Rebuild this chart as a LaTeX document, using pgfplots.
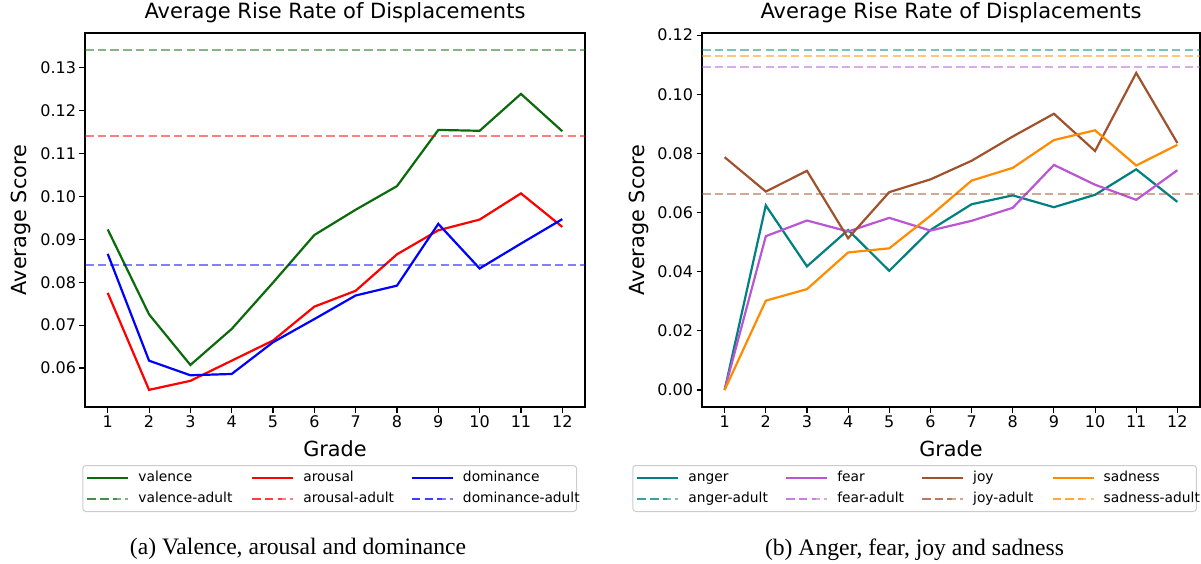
\documentclass[border=0pt]{standalone}
\usepackage{fontspec}
\setmainfont{DejaVu Sans}
\newfontfamily\capfont{Liberation Serif}
\usepackage{pgfplots}
\pgfplotsset{compat=1.18}

\definecolor{cval}{HTML}{0B6B0B}
\definecolor{caro}{HTML}{FF0000}
\definecolor{cdom}{HTML}{0000FF}
\definecolor{cang}{HTML}{008080}
\definecolor{cfea}{HTML}{BA55D3}
\definecolor{cjoy}{HTML}{A0522D}
\definecolor{csad}{HTML}{FF8C00}

\newcommand{\lgd}[2]{\makebox[#1][l]{\hspace*{9pt}#2}}

\pgfplotstableread{
grade valence arousal dominance
1  0.0923 0.0775 0.0866
2  0.0725 0.0549 0.0617
3  0.0607 0.0570 0.0583
4  0.0691 0.0617 0.0586
5  0.0799 0.0664 0.0660
6  0.0910 0.0743 0.0714
7  0.0969 0.0780 0.0769
8  0.1024 0.0865 0.0792
9  0.1155 0.0921 0.0936
10 0.1153 0.0946 0.0832
11 0.1239 0.1007 0.0890
12 0.1152 0.0929 0.0947
}\vadtable

\pgfplotstableread{
grade anger fear joy sadness
1  0.0000 0.0000 0.0787 0.0000
2  0.0624 0.0520 0.0671 0.0302
3  0.0418 0.0573 0.0741 0.0341
4  0.0541 0.0536 0.0513 0.0465
5  0.0403 0.0582 0.0669 0.0479
6  0.0541 0.0539 0.0712 0.0589
7  0.0628 0.0572 0.0775 0.0708
8  0.0658 0.0616 0.0857 0.0751
9  0.0618 0.0761 0.0934 0.0845
10 0.0660 0.0694 0.0808 0.0878
11 0.0746 0.0643 0.1072 0.0759
12 0.0636 0.0743 0.0835 0.0829
}\emotable

\pgfplotsset{
  legend image code/.code={\draw[#1] (0pt,0pt) -- (30pt,0pt); \path (0pt,0pt) -- (41pt,0pt);},
  adult/.style={dash pattern=on 8.5pt off 4.2pt, draw opacity=0.5},
  mystyle/.style={
    scale only axis, height=374pt,
    xmin=0.45, xmax=12.55, xtick={1,...,12},
    tick pos=left, tick align=outside, major tick length=5.5pt,
    tick style={black, line width=1.1pt},
    axis line style={line width=1.1pt, black},
    tick label style={font=\fontsize{16}{19}\selectfont},
    /pgf/number format/assume math mode=true,
    yticklabel style={/pgf/number format/fixed, /pgf/number format/fixed zerofill, /pgf/number format/precision=2},
    title style={at={(axis description cs:0.5,1)}, anchor=base, yshift=8.5pt, font=\fontsize{21}{25}\selectfont},
    title={Average Rise Rate of Displacements},
    xlabel={Grade}, ylabel={Average Score},
    label style={font=\fontsize{20.8}{25}\selectfont},
    xlabel style={at={(axis description cs:0.5,-0.1329)}, anchor=base},
    legend cell align=left,
    legend style={anchor=north west, draw=black!20, line width=1pt, rounded corners=3pt, fill=white,
      inner xsep=3.5pt, inner ysep=6pt, row sep=8pt, column sep=0pt,
      nodes={inner xsep=0pt, inner ysep=0pt, text height=10pt, text depth=3pt, font=\fontsize{13.8}{16}\selectfont}},
    every axis plot/.append style={line width=2.2pt, no markers},
  }
}

\begin{document}
\begin{tikzpicture}
\useasboundingbox (0pt,0pt) rectangle (1201pt,563pt);

\begin{axis}[mystyle, at={(85pt,156pt)}, anchor=south west, width=500pt,
  ymin=0.0509, ymax=0.1381, ytick={0.06,0.07,0.08,0.09,0.10,0.11,0.12,0.13},
  ylabel style={at={(axis description cs:-0.1166,0.5)}, anchor=base},
  legend columns=3,
  legend style={at={(axis description cs:-0.0054,-0.1551)}}]
\addplot[cval] table[x=grade, y=valence] {\vadtable};
\addlegendentry{\lgd{121.6pt}{valence}}
\addplot[caro] table[x=grade, y=arousal] {\vadtable};
\addlegendentry{\lgd{116.5pt}{arousal}}
\addplot[cdom] table[x=grade, y=dominance] {\vadtable};
\addlegendentry{\lgd{119pt}{dominance}}
\addplot[cval, adult] coordinates {(0.45,0.1341) (12.55,0.1341)};
\addlegendentry{\lgd{121.6pt}{valence-adult}}
\addplot[caro, adult] coordinates {(0.45,0.1140) (12.55,0.1140)};
\addlegendentry{\lgd{116.5pt}{arousal-adult}}
\addplot[cdom, adult] coordinates {(0.45,0.0841) (12.55,0.0841)};
\addlegendentry{\lgd{119pt}{dominance-adult}}
\end{axis}

\begin{axis}[mystyle, at={(702pt,156pt)}, anchor=south west, width=498pt,
  ymin=-0.00575, ymax=0.1207, ytick={0,0.02,0.04,0.06,0.08,0.10,0.12},
  ylabel style={at={(axis description cs:-0.1145,0.5)}, anchor=base},
  legend columns=4,
  legend style={at={(axis description cs:-0.14,-0.1551)}}]
\addplot[cang] table[x=grade, y=anger] {\emotable};
\addlegendentry{\lgd{105.6pt}{anger}}
\addplot[cfea] table[x=grade, y=fear] {\emotable};
\addlegendentry{\lgd{92.7pt}{fear}}
\addplot[cjoy] table[x=grade, y=joy] {\emotable};
\addlegendentry{\lgd{87.3pt}{joy}}
\addplot[csad] table[x=grade, y=sadness] {\emotable};
\addlegendentry{\lgd{98.2pt}{sadness}}
\addplot[cang, adult] coordinates {(0.45,0.1149) (12.55,0.1149)};
\addlegendentry{\lgd{105.6pt}{anger-adult}}
\addplot[cfea, adult] coordinates {(0.45,0.1092) (12.55,0.1092)};
\addlegendentry{\lgd{92.7pt}{fear-adult}}
\addplot[cjoy, adult] coordinates {(0.45,0.0662) (12.55,0.0662)};
\addlegendentry{\lgd{87.3pt}{joy-adult}}
\addplot[csad, adult] coordinates {(0.45,0.1130) (12.55,0.1130)};
\addlegendentry{\lgd{98.2pt}{sadness-adult}}
\end{axis}

\node[anchor=base, font=\capfont\fontsize{23.6}{28}\selectfont] at (298pt,9pt) {(a) Valence, arousal and dominance};
\node[anchor=base, font=\capfont\fontsize{23.6}{28}\selectfont] at (914.5pt,8pt) {(b) Anger, fear, joy and sadness};
\end{tikzpicture}
\end{document}
